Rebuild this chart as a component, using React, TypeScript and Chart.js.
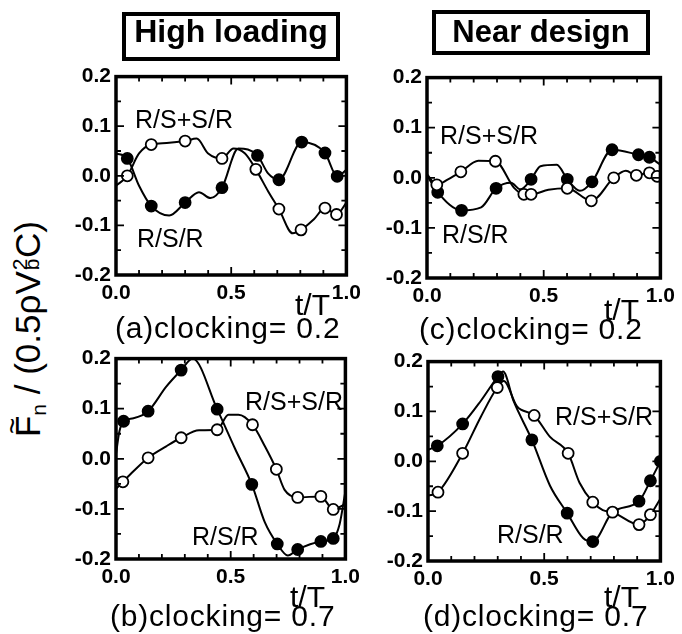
import React, { useEffect, useRef } from 'react';
import { Chart, registerables } from 'chart.js';

Chart.register(...registerables);

const FONT = '"Liberation Sans", Arial, Helvetica, sans-serif';

// ---------- data (t/T, force) ----------
// (a) High loading, clocking 0.2
const aOpenX = [0, 0.049, 0.10, 0.153, 0.22, 0.30, 0.35, 0.40, 0.46, 0.51, 0.56, 0.607, 0.66, 0.707, 0.767, 0.803, 0.86, 0.907, 0.957, 1.0];
const aOpenY = [-0.02, 0.0, 0.045, 0.063, 0.066, 0.070, 0.075, 0.045, 0.035, 0.055, 0.045, 0.013, -0.031, -0.067, -0.116, -0.109, -0.087, -0.065, -0.078, -0.054];
const aOpenM = [0, 1, 0, 1, 0, 1, 0, 0, 1, 0, 0, 1, 0, 1, 0, 1, 0, 1, 1, 0];
const aFillX = [0, 0.049, 0.10, 0.153, 0.231, 0.30, 0.36, 0.41, 0.46, 0.531, 0.614, 0.66, 0.707, 0.806, 0.907, 0.96, 1.0];
const aFillY = [0.045, 0.035, -0.02, -0.061, -0.08, -0.054, -0.033, -0.045, -0.024, 0.055, 0.041, 0.005, -0.008, 0.068, 0.046, -0.001, 0.012];
const aFillM = [0, 1, 0, 1, 0, 1, 0, 0, 1, 0, 1, 0, 1, 1, 1, 1, 0];

// (b) High loading, clocking 0.7
const bOpenX = [0, 0.03, 0.076, 0.14, 0.219, 0.284, 0.362, 0.441, 0.49, 0.534, 0.595, 0.649, 0.699, 0.735, 0.792, 0.893, 0.947, 1.0];
const bOpenY = [-0.06, -0.046, -0.025, 0.002, 0.025, 0.042, 0.057, 0.058, 0.088, 0.088, 0.068, 0.025, -0.021, -0.062, -0.077, -0.075, -0.101, -0.09];
const bOpenM = [0, 1, 0, 1, 0, 1, 0, 1, 0, 0, 1, 0, 1, 0, 1, 1, 1, 0];
const bFillX = [0, 0.015, 0.033, 0.076, 0.14, 0.219, 0.284, 0.334, 0.441, 0.52, 0.592, 0.649, 0.703, 0.749, 0.792, 0.893, 0.947, 0.975, 1.0];
const bFillY = [0.01, 0.055, 0.075, 0.081, 0.095, 0.144, 0.177, 0.2, 0.099, 0.019, -0.051, -0.127, -0.170, -0.193, -0.181, -0.165, -0.159, -0.13, -0.065];
const bFillM = [0, 0, 1, 0, 1, 0, 1, 0, 1, 0, 1, 0, 1, 0, 1, 1, 1, 0, 0];

// (c) Near design, clocking 0.2
const cOpenX = [0, 0.042, 0.09, 0.145, 0.22, 0.293, 0.373, 0.415, 0.446, 0.52, 0.601, 0.704, 0.8, 0.852, 0.897, 0.953, 0.986, 1.0];
const cOpenY = [0.007, -0.014, -0.003, 0.012, 0.034, 0.033, -0.02, -0.033, -0.033, -0.024, -0.021, -0.046, 0.0, 0.014, 0.005, 0.010, 0.003, 0.004];
const cOpenM = [0, 1, 0, 1, 0, 1, 0, 1, 1, 0, 1, 1, 1, 0, 1, 1, 1, 0];
const cFillX = [0, 0.046, 0.148, 0.232, 0.296, 0.36, 0.40, 0.446, 0.486, 0.556, 0.601, 0.655, 0.707, 0.793, 0.906, 0.953, 1.0];
const cFillY = [0.005, -0.029, -0.065, -0.059, -0.021, -0.01, -0.023, -0.003, 0.023, 0.026, -0.003, -0.026, -0.008, 0.056, 0.046, 0.041, 0.026];
const cFillM = [0, 1, 1, 0, 1, 0, 0, 1, 0, 0, 1, 0, 1, 1, 1, 1, 0];

// (d) Near design, clocking 0.7
const dOpenX = [0, 0.043, 0.149, 0.227, 0.298, 0.326, 0.383, 0.457, 0.525, 0.603, 0.652, 0.709, 0.752, 0.794, 0.908, 0.957, 1.0];
const dOpenY = [-0.069, -0.062, 0.016, 0.089, 0.148, 0.161, 0.11, 0.092, 0.049, 0.016, -0.043, -0.082, -0.098, -0.102, -0.127, -0.107, -0.075];
const dOpenM = [0, 1, 1, 0, 1, 0, 0, 1, 0, 1, 0, 1, 0, 1, 1, 1, 0];
const dFillX = [0, 0.04, 0.149, 0.227, 0.301, 0.323, 0.369, 0.447, 0.525, 0.599, 0.667, 0.709, 0.794, 0.908, 0.957, 1.0];
const dFillY = [0.023, 0.031, 0.075, 0.121, 0.17, 0.18, 0.12, 0.043, -0.049, -0.104, -0.154, -0.161, -0.102, -0.08, -0.039, 0.0];
const dFillM = [0, 1, 1, 0, 1, 0, 0, 1, 0, 1, 0, 1, 0, 1, 1, 1, 0];

const xTicks = [0, 0.5, 1.0];
const yTicks = [-0.2, -0.1, 0, 0.1, 0.2];
const seriesNames = ['R/S+S/R', 'R/S/R'];
const columnTitles = ['High loading', 'Near design'];
const captions = ['(a)clocking= 0.2', '(b)clocking= 0.7', '(c)clocking= 0.2', '(d)clocking= 0.7'];

// ---------- layout ----------
const PAD_L = 50, PAD_T = 12, PAD_R = 18, PAD_B = 34;

type Area = { l: number; t: number; r: number; b: number };

const framePlugin = {
  id: 'frame',
  afterDraw(chart: any) {
    const { ctx, chartArea } = chart;
    const { left, top, right, bottom } = chartArea;
    const xs = chart.scales.x;
    const ys = chart.scales.y;
    ctx.save();
    ctx.strokeStyle = '#000';
    ctx.lineWidth = 1.8;
    ctx.beginPath();
    for (let k = -4; k <= 4; k++) {
      const py = ys.getPixelForValue(k * 0.05);
      const len = k % 2 === 0 ? 8 : 5;
      ctx.moveTo(left, py); ctx.lineTo(left + len, py);
      ctx.moveTo(right, py); ctx.lineTo(right - len, py);
    }
    for (let k = 0; k <= 10; k++) {
      const px = xs.getPixelForValue(k / 10);
      const len = k === 5 ? 8 : 5;
      ctx.moveTo(px, top); ctx.lineTo(px, top + len);
      ctx.moveTo(px, bottom); ctx.lineTo(px, bottom - len);
    }
    ctx.stroke();
    ctx.lineWidth = 3.5;
    ctx.strokeRect(left, top, right - left, bottom - top);
    ctx.restore();
  },
};

const fmt = (v: any) => {
  const n = Number(v);
  return Math.abs(n) < 1e-9 ? '0.0' : n.toFixed(1);
};

function makeDataset(xs: number[], ys: number[], ms: number[], fill: string) {
  return {
    data: xs.map((x, i) => ({ x, y: ys[i] })),
    borderColor: '#000',
    borderWidth: 2,
    pointRadius: ms.map((m) => (m ? 5.5 : 0)),
    pointBackgroundColor: fill,
    pointBorderColor: '#000',
    pointBorderWidth: 1.8,
    cubicInterpolationMode: 'monotone' as const,
    fill: false,
  };
}

function Panel(props: {
  area: Area;
  openX: number[]; openY: number[]; openM: number[];
  fillX: number[]; fillY: number[]; fillM: number[];
}) {
  const { area } = props;
  const ref = useRef<HTMLCanvasElement>(null);
  const w = area.r - area.l + PAD_L + PAD_R;
  const h = area.b - area.t + PAD_T + PAD_B;
  useEffect(() => {
    if (!ref.current) return;
    const tickFont = { family: FONT, size: 21, weight: 'bold' as const };
    const chart = new Chart(ref.current, {
      type: 'line',
      data: {
        datasets: [
          makeDataset(props.openX, props.openY, props.openM, '#fff'),
          makeDataset(props.fillX, props.fillY, props.fillM, '#000'),
        ],
      },
      options: {
        animation: false,
        responsive: false,
        maintainAspectRatio: false,
        layout: { padding: { top: PAD_T, right: PAD_R, left: 0, bottom: 0 } },
        plugins: { legend: { display: false }, tooltip: { enabled: false } },
        scales: {
          x: {
            type: 'linear',
            min: 0,
            max: 1,
            afterFit: (s: any) => { s.height = PAD_B; },
            afterBuildTicks: (s: any) => { s.ticks = xTicks.map((v) => ({ value: v })); },
            grid: { display: false, drawTicks: false },
            border: { display: false },
            ticks: { padding: 6, font: tickFont, color: '#000', callback: fmt, maxRotation: 0, autoSkip: false },
          },
          y: {
            type: 'linear',
            min: -0.2,
            max: 0.2,
            afterFit: (s: any) => { s.width = PAD_L; },
            afterBuildTicks: (s: any) => { s.ticks = yTicks.map((v) => ({ value: v })); },
            grid: { display: false, drawTicks: false },
            border: { display: false },
            ticks: { padding: 5, font: tickFont, color: '#000', callback: fmt, autoSkip: false },
          },
        },
      },
      plugins: [framePlugin],
    } as any);
    return () => chart.destroy();
  }, []);
  return (
    <canvas
      ref={ref}
      width={w}
      height={h}
      style={{ position: 'absolute', left: area.l - PAD_L, top: area.t - PAD_T, width: w, height: h }}
    />
  );
}

function Txt(props: { x: number; y: number; size: number; bold?: boolean; ls?: number; children: any }) {
  return (
    <div
      style={{
        position: 'absolute',
        left: props.x,
        top: props.y,
        fontFamily: FONT,
        fontSize: props.size,
        fontWeight: props.bold ? 'bold' : 'normal',
        lineHeight: 1,
        whiteSpace: 'nowrap',
        letterSpacing: props.ls ? props.ls : 0,
        color: '#000',
      }}
    >
      {props.children}
    </div>
  );
}

const areaA: Area = { l: 116, t: 71, r: 349, b: 275 };
const areaB: Area = { l: 116, t: 353, r: 348, b: 559 };
const areaC: Area = { l: 427, t: 72, r: 663, b: 278 };
const areaD: Area = { l: 428, t: 356, r: 663, b: 561 };

export default function App() {
  return (
    <div style={{ position: 'absolute', left: 0, top: 0, width: 682, height: 634, background: '#fff', overflow: 'hidden' }}>
      <Panel area={areaA} openX={aOpenX} openY={aOpenY} openM={aOpenM} fillX={aFillX} fillY={aFillY} fillM={aFillM} />
      <Panel area={areaB} openX={bOpenX} openY={bOpenY} openM={bOpenM} fillX={bFillX} fillY={bFillY} fillM={bFillM} />
      <Panel area={areaC} openX={cOpenX} openY={cOpenY} openM={cOpenM} fillX={cFillX} fillY={cFillY} fillM={cFillM} />
      <Panel area={areaD} openX={dOpenX} openY={dOpenY} openM={dOpenM} fillX={dFillX} fillY={dFillY} fillM={dFillM} />

      {/* column title boxes */}
      <div style={{ position: 'absolute', left: 122, top: 12, width: 218, height: 49, border: '4px solid #000', boxSizing: 'border-box' }} />
      <div style={{ position: 'absolute', left: 122, top: 14.6, width: 218, textAlign: 'center', fontFamily: FONT, fontWeight: 'bold', fontSize: 32, lineHeight: 1 }}>{columnTitles[0]}</div>
      <div style={{ position: 'absolute', left: 432, top: 10, width: 218, height: 45, border: '4px solid #000', boxSizing: 'border-box' }} />
      <div style={{ position: 'absolute', left: 432, top: 15.5, width: 218, textAlign: 'center', fontFamily: FONT, fontWeight: 'bold', fontSize: 31, lineHeight: 1 }}>{columnTitles[1]}</div>

      {/* series labels */}
      <Txt x={135} y={107} size={25}>{seriesNames[0]}</Txt>
      <Txt x={137} y={226} size={25}>{seriesNames[1]}</Txt>
      <Txt x={440} y={123} size={25}>{seriesNames[0]}</Txt>
      <Txt x={442} y={222} size={25}>{seriesNames[1]}</Txt>
      <Txt x={245} y={389} size={25}>{seriesNames[0]}</Txt>
      <Txt x={192} y={524} size={25}>{seriesNames[1]}</Txt>
      <Txt x={555} y={404} size={25}>{seriesNames[0]}</Txt>
      <Txt x={497} y={522} size={25}>{seriesNames[1]}</Txt>

      {/* t/T axis names */}
      <Txt x={295} y={290} size={30}>t/T</Txt>
      <Txt x={604} y={295} size={30}>t/T</Txt>
      <Txt x={290} y={582} size={30}>t/T</Txt>
      <Txt x={604} y={582} size={30}>t/T</Txt>

      {/* captions */}
      <Txt x={115} y={313} size={30} ls={0.8}>{captions[0]}</Txt>
      <Txt x={110} y={601} size={30} ls={0.8}>{captions[1]}</Txt>
      <Txt x={419} y={314} size={30} ls={0.8}>{captions[2]}</Txt>
      <Txt x={423} y={601} size={30} ls={0.8}>{captions[3]}</Txt>

      {/* shared y-axis label */}
      <div
        style={{
          position: 'absolute',
          left: 27,
          top: 329,
          transform: 'translate(-50%, -50%) rotate(-90deg)',
          whiteSpace: 'nowrap',
          fontFamily: FONT,
          fontSize: 35,
          lineHeight: 1,
          color: '#000',
        }}
      >
        <span style={{ position: 'relative', display: 'inline-block' }}>
          F
          <span style={{ position: 'absolute', left: 3, top: '-0.41em', fontSize: '0.8em', lineHeight: 1 }}>~</span>
        </span>
        <span style={{ fontSize: '0.6em', position: 'relative', top: '0.28em' }}>n</span>
        {' / (0.5ρV'}
        <span style={{ position: 'relative', display: 'inline-block', width: '0.38em', height: '1em', verticalAlign: 'top' }}>
          <span style={{ position: 'absolute', left: 1, top: '-0.05em', fontSize: '0.6em', lineHeight: 1 }}>2</span>
          <span style={{ position: 'absolute', left: 1, top: '0.52em', fontSize: '0.6em', lineHeight: 1 }}>b</span>
        </span>
        {'C)'}
      </div>
    </div>
  );
}
